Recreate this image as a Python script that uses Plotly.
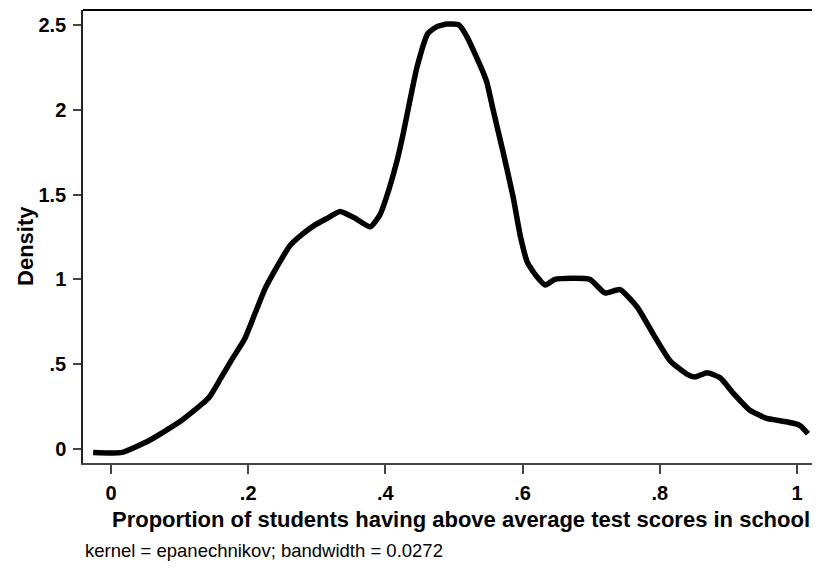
import plotly.graph_objects as go

# Kernel density estimate
x_vals = [-0.026, 0.016, 0.057, 0.100, 0.134, 0.144, 0.159, 0.175, 0.195, 0.210, 0.224, 0.240,
          0.261, 0.280, 0.297, 0.315, 0.334, 0.356, 0.378, 0.392, 0.402, 0.417, 0.426, 0.436,
          0.446, 0.462, 0.475, 0.490, 0.507, 0.519, 0.541, 0.548, 0.557, 0.571, 0.586, 0.597,
          0.607, 0.620, 0.633, 0.647, 0.698, 0.720, 0.742, 0.767, 0.790, 0.815, 0.840, 0.851,
          0.869, 0.888, 0.907, 0.931, 0.956, 0.985, 1.004, 1.016]
y_vals = [-0.020, -0.020, 0.053, 0.160, 0.270, 0.310, 0.410, 0.520, 0.650, 0.800, 0.940, 1.060,
          1.200, 1.270, 1.320, 1.360, 1.400, 1.360, 1.310, 1.380, 1.490, 1.700, 1.860, 2.060,
          2.250, 2.450, 2.490, 2.505, 2.500, 2.430, 2.235, 2.160, 2.000, 1.760, 1.490, 1.250,
          1.100, 1.020, 0.967, 1.000, 1.000, 0.920, 0.940, 0.837, 0.680, 0.520, 0.440, 0.425,
          0.450, 0.420, 0.330, 0.230, 0.180, 0.160, 0.140, 0.090]

x_ticks = [0, 0.2, 0.4, 0.6, 0.8, 1.0]
x_ticktext = ["0", ".2", ".4", ".6", ".8", "1"]
y_ticks = [0, 0.5, 1.0, 1.5, 2.0, 2.5]
y_ticktext = ["0", ".5", "1", "1.5", "2", "2.5"]

x_title = "Proportion of students having above average test scores in school"
y_title = "Density"
note = "kernel = epanechnikov; bandwidth = 0.0272"

FONT = "Liberation Sans, Arial, Helvetica, sans-serif"

fig = go.Figure()
fig.add_trace(go.Scatter(x=x_vals, y=y_vals, mode="lines",
                         line=dict(color="black", width=5.5, shape="spline", smoothing=0.5),
                         showlegend=False, hoverinfo="skip"))

fig.update_layout(
    width=820, height=572,
    margin=dict(l=75, r=0, t=2, b=117, autoexpand=False),
    paper_bgcolor="white", plot_bgcolor="white",
    font=dict(family=FONT, color="black", size=20),
    xaxis=dict(range=[-0.0408, 1.0452], tickvals=x_ticks, ticktext=x_ticktext,
               showgrid=False, zeroline=False, showline=True, linecolor="#444",
               linewidth=1.5, ticks="outside", ticklen=9, tickcolor="#444", tickwidth=1.5,
               tickfont=dict(size=20, weight="bold"), ticklabelstandoff=2),
    yaxis=dict(range=[-0.0825, 2.588], tickvals=y_ticks, ticktext=y_ticktext,
               showgrid=False, zeroline=False, showline=True, linecolor="#222",
               linewidth=1.5, ticks="outside", ticklen=8, tickcolor="#444", tickwidth=1.5,
               tickfont=dict(size=20, weight="bold"), ticklabelstandoff=3),
    shapes=[dict(type="line", xref="paper", yref="paper", x0=0, x1=1, y0=1, y1=1,
                 line=dict(color="black", width=2))],
    annotations=[
        dict(text="<b>%s</b>" % x_title, xref="paper", yref="paper", x=0.507, y=-0.1258,
             xanchor="center", yanchor="middle", showarrow=False, font=dict(size=22)),
        dict(text="<b>%s</b>" % y_title, xref="paper", yref="paper", x=-0.0779, y=0.479,
             xanchor="center", yanchor="middle", textangle=-90, showarrow=False,
             font=dict(size=22)),
        dict(text=note, xref="paper", yref="paper", x=0, y=-0.194, xanchor="left",
             yanchor="middle", showarrow=False, font=dict(size=18.5)),
    ],
)

fig.write_html("out.html")
